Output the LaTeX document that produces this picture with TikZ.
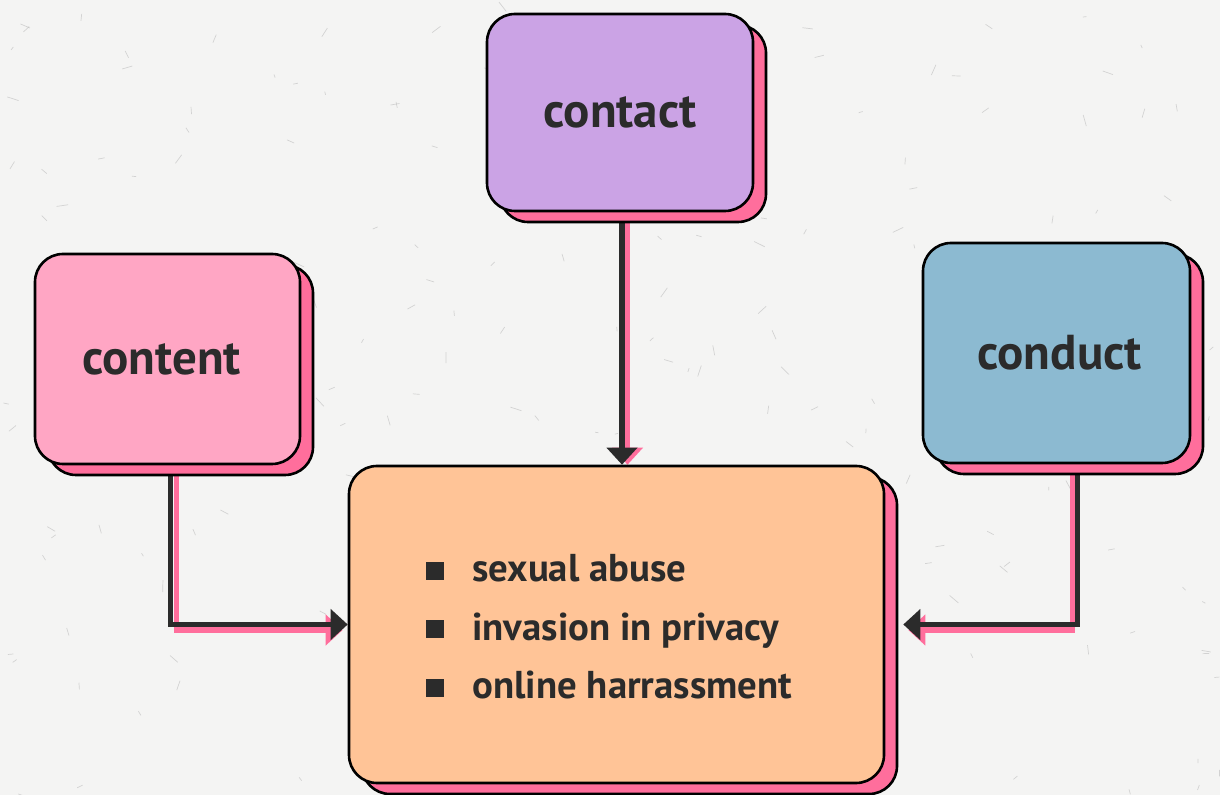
\documentclass[tikz,border=0pt]{standalone}
\usepackage{fontspec}
\setmainfont{PT Sans}
\usetikzlibrary{shadows,arrows.meta,calc,backgrounds}
\pgfdeclarelayer{paper}
\pgfsetlayers{paper,background,main}
\definecolor{paper}{HTML}{F4F4F3}
\definecolor{ink}{HTML}{2B2B2B}
\definecolor{shpink}{HTML}{FF6E9C}
\definecolor{lilac}{HTML}{CBA3E5}
\definecolor{rose}{HTML}{FFA6C4}
\definecolor{steel}{HTML}{8CBAD1}
\definecolor{peach}{HTML}{FFC497}
\tikzset{
  card/.style={draw=black, line width=1.3pt, rounded corners=14pt, text=ink,
    font=\bfseries\fontsize{24.5}{28}\selectfont,
    copy shadow={shadow xshift=6.5pt, shadow yshift=-5.5pt, fill=shpink, draw=black, line width=1.3pt}},
  link/.style={draw=ink, line width=2.8pt, -{Triangle[width=15pt,length=8.5pt]}},
  linkshade/.style={draw=shpink, line width=2.8pt, -{Triangle[width=15pt,length=8.5pt]}}
}
\newcommand{\sqbullet}{\raisebox{1pt}{\rule{9pt}{9pt}}\hspace{14pt}}
\begin{document}
\begin{tikzpicture}[x=0.5pt,y=-0.5pt]
  % paper background with faint fibres
  \begin{pgfonlayer}{paper}
    \fill[paper] (0,0) rectangle (1220,795);
    \begin{scope}
      \clip (0,0) rectangle (1220,795);
      \pgfmathsetseed{42}
      \foreach \i in {1,...,220}{
        \pgfmathsetmacro{\px}{rnd*1220}
        \pgfmathsetmacro{\py}{rnd*795}
        \pgfmathsetmacro{\ang}{rnd*360}
        \pgfmathsetmacro{\len}{3+rnd*9}
        \draw[black!30, opacity=0.5, line width=0.35pt] (\px,\py) -- ++(\ang:\len);
      }
    \end{scope}
  \end{pgfonlayer}
  \useasboundingbox (0,0) rectangle (1220,795);

  % boxes
  \node[card, fill=lilac, minimum width=133pt, minimum height=98.5pt] (contact) at (620,112.5) {contact};
  \node[card, fill=rose,  minimum width=132.5pt, minimum height=105pt] (content) at (167.5,359) {\hspace*{-6pt}content};
  \node[card, fill=steel, minimum width=133.5pt, minimum height=110pt] (conduct) at (1056.5,353) {\hspace*{3pt}conduct};
  \node[card, fill=peach, minimum width=267.5pt, minimum height=158.5pt] (main) at (616.5,624.5) {};

  % list inside the central box
  \node[anchor=west, inner sep=0pt, align=left, text=ink, font=\bfseries\fontsize{19.4}{29.25}\selectfont]
    (items) at (426,627) {\sqbullet sexual abuse\\ \sqbullet invasion in privacy\\ \sqbullet online harrassment};

  % start points of the connectors
  \coordinate (ctA) at ($(contact.south)+(2,0)$);
  \coordinate (ctB) at ($(contact.south)+(7.5,0)$);
  \coordinate (cnA) at ($(content.south)+(3,0)$);
  \coordinate (cnB) at ($(content.south)+(9,0)$);
  \coordinate (cdA) at ($(conduct.south)+(21,0)$);
  \coordinate (cdB) at ($(conduct.south)+(16,0)$);
  \coordinate (inL) at ($(main.west)+(-5,5.5)$);
  \coordinate (inR) at ($(main.east)+(18,0)$);
  \coordinate (inRB) at ($(main.east)+(23,5.5)$);

  % connectors, under the boxes
  \begin{scope}[on background layer]
    \draw[linkshade] (ctB) -- (ctB |- main.north);
    \draw[link] (ctA) -- (ctA |- main.north);

    \draw[linkshade] (cnB) |- (inL);
    \draw[link] (cnA) |- (main.west);

    \draw[linkshade] (cdB) |- (inRB);
    \draw[link] (cdA) |- (inR);
  \end{scope}
\end{tikzpicture}
\end{document}
